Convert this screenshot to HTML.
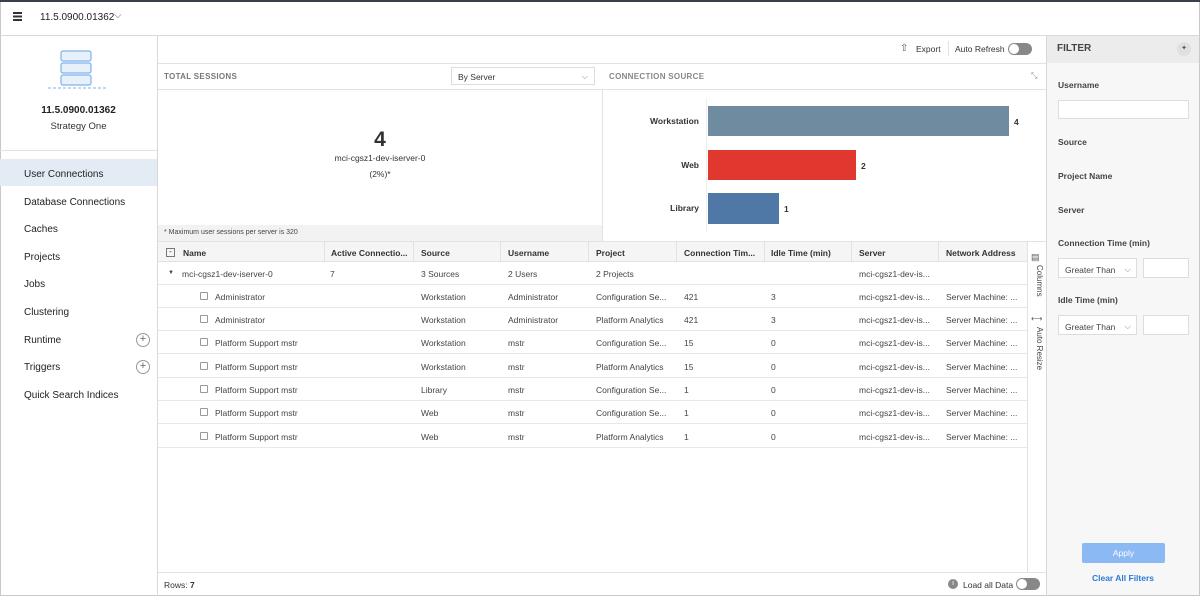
<!DOCTYPE html>
<html><head><meta charset="utf-8"><style>
*{box-sizing:border-box;margin:0;padding:0}
body{width:1200px;height:596px;position:relative;overflow:hidden;background:#fff;font-family:"Liberation Sans",Arial,sans-serif;color:#333;font-size:9px}
.a{position:absolute;white-space:nowrap}
.hl{position:absolute;height:1px;background:#e2e2e2}
.vl{position:absolute;width:1px;background:#e2e2e2}
.nav{position:absolute;left:24px;font-size:10px;color:#222}
.plus{position:absolute;left:136px;width:14px;height:14px;border:1px solid #999;border-radius:50%;font-size:11px;line-height:11px;text-align:center;color:#666}
.row{position:absolute;left:158px;width:869px;height:23px;border-bottom:1px solid #e8e8e8}
.row span{position:absolute;top:7px;font-size:8.5px;color:#444}
.cb{position:absolute;left:42px;top:7px;width:8px;height:8px;border:1px solid #999;border-radius:1px}
.th{position:absolute;top:248px;font-size:8.5px;font-weight:bold;color:#333}
.fl{position:absolute;left:1058px;font-size:8.5px;font-weight:bold;color:#444}
.sel{position:absolute;left:1058px;width:79px;height:20px;border:1px solid #ddd;background:#fff;font-size:8.5px;padding:6px 0 0 6px;color:#444}
.num{position:absolute;left:1143px;width:46px;height:20px;border:1px solid #ddd;background:#fff}
</style></head><body>
<div class="a" style="left:0;top:0;width:1200px;height:596px;border:1px solid #c8c8c8"></div>
<div class="a" style="left:0;top:0;width:1200px;height:2px;background:#3a3f4e"></div>
<!-- top bar -->
<div class="a" style="left:13px;top:12px;width:9px;height:10px;background:repeating-linear-gradient(#333 0 2px,#fff 2px 3.5px)"></div>
<div class="a" style="left:40px;top:12px;font-size:10px;color:#222">11.5.0900.01362</div>
<div class="a" style="left:114px;top:10px;font-size:10px;color:#666">⌵</div>
<div class="hl" style="left:0;top:35px;width:1200px;background:#d8d8d8"></div>
<!-- sidebar -->
<div class="vl" style="left:157px;top:35px;height:561px;background:#d8d8d8"></div>
<svg class="a" style="left:46px;top:48px" width="64" height="44"><g fill="#e8f1fb" stroke="#7fb2ea" stroke-width="1.2"><rect x="15" y="3" width="30" height="10" rx="2"/><rect x="15" y="15" width="30" height="10" rx="2"/><rect x="15" y="27" width="30" height="10" rx="2"/></g><line x1="2" y1="40" x2="62" y2="40" stroke="#7fb2ea" stroke-dasharray="3 2"/></svg>
<div class="a" style="left:0;width:157px;top:105px;text-align:center;font-size:10px;font-weight:bold;color:#222">11.5.0900.01362</div>
<div class="a" style="left:0;width:157px;top:121px;text-align:center;font-size:9.5px;color:#333">Strategy One</div>
<div class="hl" style="left:0;top:150px;width:157px"></div>
<div class="a" style="left:0;top:159px;width:157px;height:27px;background:#e3ecf5"></div>
<div class="nav" style="top:169px">User Connections</div>
<div class="nav" style="top:197px">Database Connections</div>
<div class="nav" style="top:224px">Caches</div>
<div class="nav" style="top:252px">Projects</div>
<div class="nav" style="top:279px">Jobs</div>
<div class="nav" style="top:307px">Clustering</div>
<div class="nav" style="top:335px">Runtime</div><div class="plus" style="top:333px">+</div>
<div class="nav" style="top:362px">Triggers</div><div class="plus" style="top:360px">+</div>
<div class="nav" style="top:390px">Quick Search Indices</div>
<!-- toolbar -->
<div class="a" style="left:900px;top:43px;font-size:10px;color:#555">⇧</div>
<div class="a" style="left:916px;top:44px;font-size:8.5px;color:#333">Export</div>
<div class="vl" style="left:948px;top:41px;height:15px"></div>
<div class="a" style="left:955px;top:44px;font-size:8.5px;color:#333">Auto Refresh</div>
<div class="a" style="left:1008px;top:43px;width:24px;height:12px;border-radius:6px;background:#888"></div>
<div class="a" style="left:1009px;top:44px;width:10px;height:10px;border-radius:5px;background:#fff"></div>
<div class="hl" style="left:158px;top:63px;width:888px"></div>
<!-- panel headers -->
<div class="a" style="left:164px;top:72px;font-size:8px;font-weight:bold;color:#777;letter-spacing:.3px">TOTAL SESSIONS</div>
<div class="a" style="left:451px;top:67px;width:144px;height:18px;border:1px solid #ddd;font-size:8.5px;padding:4px 0 0 6px;color:#333">By Server<span style="position:absolute;right:6px;top:3px;color:#888">⌵</span></div>
<div class="a" style="left:609px;top:72px;font-size:8px;font-weight:bold;color:#888;letter-spacing:.3px">CONNECTION SOURCE</div>
<div class="a" style="left:1031px;top:71px;font-size:8px;color:#888">⤡</div>
<div class="hl" style="left:158px;top:89px;width:888px"></div>
<div class="vl" style="left:602px;top:89px;height:153px"></div>
<!-- total sessions -->
<div class="a" style="left:158px;width:444px;top:128px;text-align:center;font-size:21px;font-weight:bold;color:#333">4</div>
<div class="a" style="left:158px;width:444px;top:153px;text-align:center;font-size:8.5px;color:#333">mci-cgsz1-dev-iserver-0</div>
<div class="a" style="left:158px;width:444px;top:169px;text-align:center;font-size:8.5px;color:#333">(2%)*</div>
<div class="a" style="left:158px;top:225px;width:444px;height:17px;background:#f2f2f2"></div>
<div class="a" style="left:164px;top:229px;font-size:7px;color:#444">* Maximum user sessions per server is 320</div>
<!-- chart -->
<div class="vl" style="left:706px;top:98px;height:134px;background:#eee"></div>
<div class="a" style="left:600px;width:99px;top:116px;text-align:right;font-size:8.5px;font-weight:bold;color:#333">Workstation</div>
<div class="a" style="left:600px;width:99px;top:160px;text-align:right;font-size:8.5px;font-weight:bold;color:#333">Web</div>
<div class="a" style="left:600px;width:99px;top:203px;text-align:right;font-size:8.5px;font-weight:bold;color:#333">Library</div>
<div class="a" style="left:708px;top:106px;width:301px;height:30px;background:#6e8ba0"></div>
<div class="a" style="left:708px;top:150px;width:148px;height:30px;background:#e0372f"></div>
<div class="a" style="left:708px;top:193px;width:71px;height:31px;background:#4f78a7"></div>
<div class="a" style="left:1014px;top:117px;font-size:8.5px;font-weight:bold">4</div>
<div class="a" style="left:861px;top:161px;font-size:8.5px;font-weight:bold">2</div>
<div class="a" style="left:784px;top:204px;font-size:8.5px;font-weight:bold">1</div>
<!-- table -->
<div class="hl" style="left:158px;top:241px;width:888px"></div>
<div class="a" style="left:158px;top:242px;width:869px;height:20px;background:#f5f5f5;border-bottom:1px solid #e2e2e2"></div>
<div class="a" style="left:166px;top:248px;width:9px;height:9px;border:1px solid #777;font-size:8px;line-height:6px;text-align:center">-</div>
<div class="th" style="left:183px">Name</div>
<div class="th" style="left:331px">Active Connectio...</div>
<div class="th" style="left:421px">Source</div>
<div class="th" style="left:508px">Username</div>
<div class="th" style="left:596px">Project</div>
<div class="th" style="left:684px">Connection Tim...</div>
<div class="th" style="left:771px">Idle Time (min)</div>
<div class="th" style="left:859px">Server</div>
<div class="th" style="left:946px">Network Address</div>
<div class="vl" style="left:324px;top:242px;height:20px"></div><div class="vl" style="left:413px;top:242px;height:20px"></div><div class="vl" style="left:500px;top:242px;height:20px"></div><div class="vl" style="left:588px;top:242px;height:20px"></div><div class="vl" style="left:676px;top:242px;height:20px"></div><div class="vl" style="left:764px;top:242px;height:20px"></div><div class="vl" style="left:851px;top:242px;height:20px"></div><div class="vl" style="left:938px;top:242px;height:20px"></div>
<div class="row" style="top:262px"><span style="left:10px;font-size:6px;top:8px">▼</span><span style="left:24px">mci-cgsz1-dev-iserver-0</span><span style="left:172px">7</span><span style="left:263px">3 Sources</span><span style="left:350px">2 Users</span><span style="left:438px">2 Projects</span><span style="left:701px">mci-cgsz1-dev-is...</span></div>
<div class="row" style="top:285px"><div class="cb"></div><span style="left:57px">Administrator</span><span style="left:263px">Workstation</span><span style="left:350px">Administrator</span><span style="left:438px">Configuration Se...</span><span style="left:526px">421</span><span style="left:613px">3</span><span style="left:701px">mci-cgsz1-dev-is...</span><span style="left:788px">Server Machine: ...</span></div>
<div class="row" style="top:308px"><div class="cb"></div><span style="left:57px">Administrator</span><span style="left:263px">Workstation</span><span style="left:350px">Administrator</span><span style="left:438px">Platform Analytics</span><span style="left:526px">421</span><span style="left:613px">3</span><span style="left:701px">mci-cgsz1-dev-is...</span><span style="left:788px">Server Machine: ...</span></div>
<div class="row" style="top:331px"><div class="cb"></div><span style="left:57px">Platform Support mstr</span><span style="left:263px">Workstation</span><span style="left:350px">mstr</span><span style="left:438px">Configuration Se...</span><span style="left:526px">15</span><span style="left:613px">0</span><span style="left:701px">mci-cgsz1-dev-is...</span><span style="left:788px">Server Machine: ...</span></div>
<div class="row" style="top:355px"><div class="cb"></div><span style="left:57px">Platform Support mstr</span><span style="left:263px">Workstation</span><span style="left:350px">mstr</span><span style="left:438px">Platform Analytics</span><span style="left:526px">15</span><span style="left:613px">0</span><span style="left:701px">mci-cgsz1-dev-is...</span><span style="left:788px">Server Machine: ...</span></div>
<div class="row" style="top:378px"><div class="cb"></div><span style="left:57px">Platform Support mstr</span><span style="left:263px">Library</span><span style="left:350px">mstr</span><span style="left:438px">Configuration Se...</span><span style="left:526px">1</span><span style="left:613px">0</span><span style="left:701px">mci-cgsz1-dev-is...</span><span style="left:788px">Server Machine: ...</span></div>
<div class="row" style="top:401px"><div class="cb"></div><span style="left:57px">Platform Support mstr</span><span style="left:263px">Web</span><span style="left:350px">mstr</span><span style="left:438px">Configuration Se...</span><span style="left:526px">1</span><span style="left:613px">0</span><span style="left:701px">mci-cgsz1-dev-is...</span><span style="left:788px">Server Machine: ...</span></div>
<div class="row" style="top:425px"><div class="cb"></div><span style="left:57px">Platform Support mstr</span><span style="left:263px">Web</span><span style="left:350px">mstr</span><span style="left:438px">Platform Analytics</span><span style="left:526px">1</span><span style="left:613px">0</span><span style="left:701px">mci-cgsz1-dev-is...</span><span style="left:788px">Server Machine: ...</span></div>
<div class="vl" style="left:1027px;top:242px;height:330px"></div>
<div class="a" style="left:1031px;top:252px;font-size:9px;color:#555">▤</div>
<div class="a" style="left:1044px;top:265px;transform:rotate(90deg);transform-origin:0 0;font-size:8px;color:#444">Columns</div>
<div class="a" style="left:1031px;top:314px;font-size:8px;color:#555">⟷</div>
<div class="a" style="left:1044px;top:327px;transform:rotate(90deg);transform-origin:0 0;font-size:8px;color:#444">Auto Resize</div>
<!-- footer -->
<div class="hl" style="left:158px;top:572px;width:888px"></div>
<div class="a" style="left:164px;top:580px;font-size:8.5px;color:#333">Rows: <b>7</b></div>
<div class="a" style="left:948px;top:579px;width:10px;height:10px;border-radius:5px;background:#888;color:#fff;font-size:7px;text-align:center;line-height:10px">i</div>
<div class="a" style="left:963px;top:580px;font-size:8.5px;color:#333">Load all Data</div>
<div class="a" style="left:1016px;top:578px;width:24px;height:12px;border-radius:6px;background:#888"></div>
<div class="a" style="left:1017px;top:579px;width:10px;height:10px;border-radius:5px;background:#fff"></div>
<!-- filter -->
<div class="vl" style="left:1046px;top:35px;height:561px;background:#d8d8d8"></div>
<div class="a" style="left:1047px;top:36px;width:152px;height:559px;background:#f7f7f7"></div>
<div class="a" style="left:1047px;top:36px;width:152px;height:27px;background:#ececec"></div>
<div class="a" style="left:1057px;top:43px;font-size:10px;font-weight:bold;color:#444">FILTER</div>
<div class="a" style="left:1177px;top:42px;width:14px;height:14px;border-radius:7px;background:#e0e0e0;font-size:7px;text-align:center;line-height:14px;color:#555">✦</div>
<div class="fl" style="top:80px">Username</div>
<div class="a" style="left:1058px;top:100px;width:131px;height:19px;border:1px solid #ddd;background:#fff"></div>
<div class="fl" style="top:137px">Source</div>
<div class="fl" style="top:171px">Project Name</div>
<div class="fl" style="top:205px">Server</div>
<div class="fl" style="top:238px">Connection Time (min)</div>
<div class="sel" style="top:258px">Greater Than<span style="position:absolute;right:5px;top:5px;color:#888">⌵</span></div>
<div class="num" style="top:258px"></div>
<div class="fl" style="top:295px">Idle Time (min)</div>
<div class="sel" style="top:315px">Greater Than<span style="position:absolute;right:5px;top:5px;color:#888">⌵</span></div>
<div class="num" style="top:315px"></div>
<div class="a" style="left:1082px;top:543px;width:83px;height:20px;border-radius:2px;background:#8ab9f3;color:#fff;font-size:8.5px;text-align:center;line-height:20px">Apply</div>
<div class="a" style="left:1047px;width:152px;top:573px;text-align:center;font-size:8.5px;font-weight:bold;color:#2d7ad6">Clear All Filters</div>
</body></html>
